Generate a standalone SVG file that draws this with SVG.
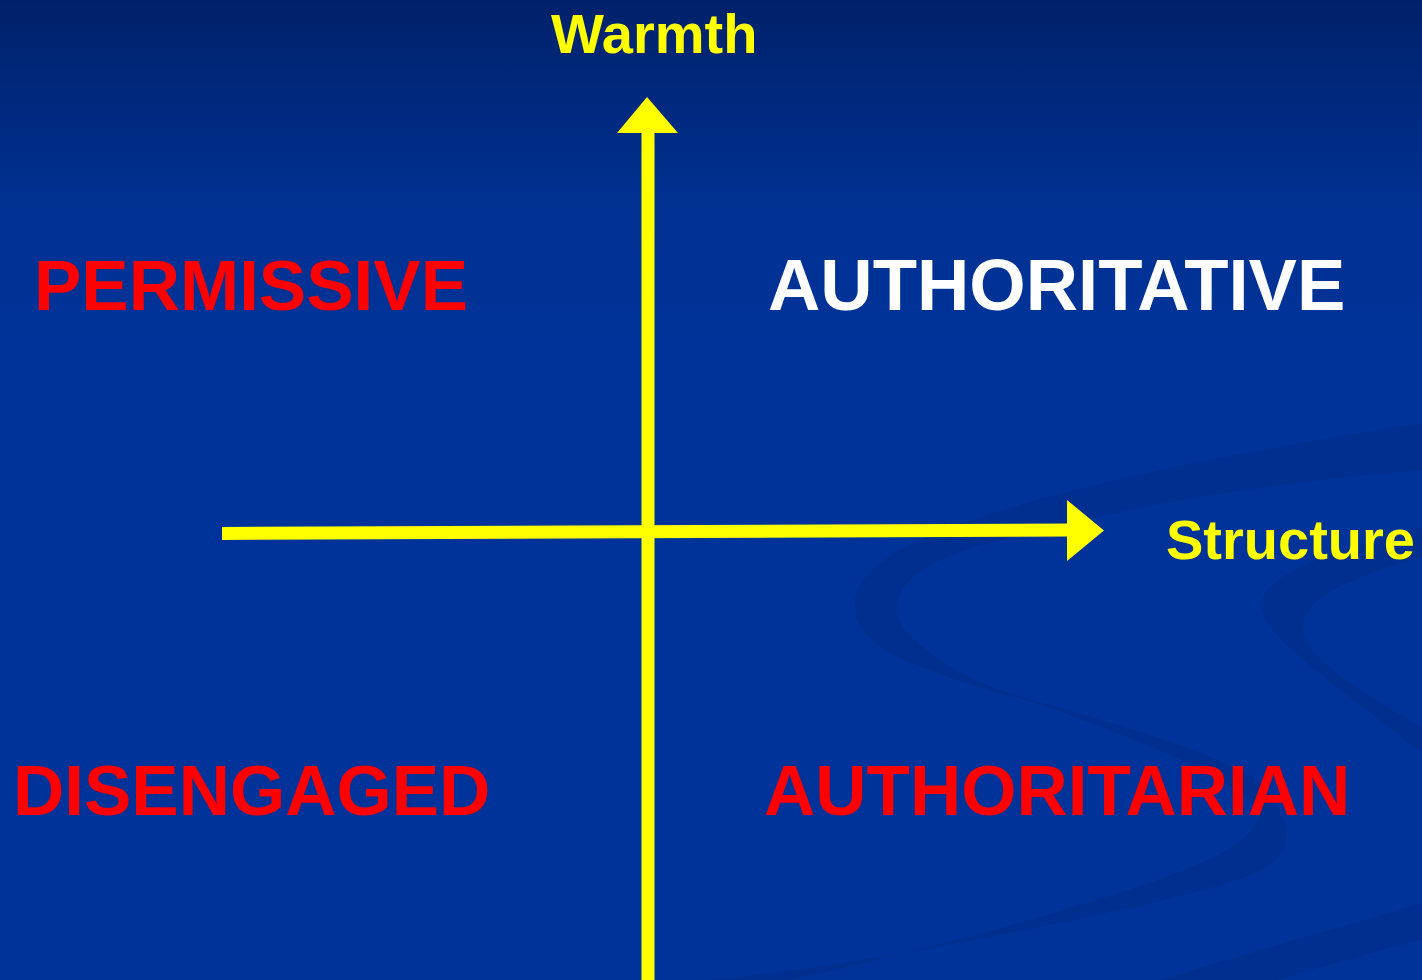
<svg xmlns="http://www.w3.org/2000/svg" width="1422" height="980" viewBox="0 0 1422 980">
  <defs>
    <linearGradient id="bg" x1="0" y1="0" x2="0" y2="1">
      <stop offset="0" stop-color="#00216a"/>
      <stop offset="0.2" stop-color="#003090"/>
      <stop offset="0.35" stop-color="#003399"/>
      <stop offset="1" stop-color="#003399"/>
    </linearGradient>
    <style>
      .swirl { fill: #002a80; opacity: 0.4; }
      .axis { stroke: #ffff00; stroke-width: 13; fill: none; }
      .head { fill: #ffff00; }
      .lbl { font-family: "Liberation Sans", Arial, sans-serif; font-weight: bold; }
      .axislbl { fill: #ffff00; font-size: 56px; }
      .quad { font-size: 71px; }
      .red { fill: #ff0000; }
      .white { fill: #ffffff; }
    </style>
  </defs>
  <rect x="0" y="0" width="1422" height="980" fill="url(#bg)"/>
  <g id="background-swirls">
    <path class="swirl" d="M1422,423 C1250,450 1000,495 900,550 C830,590 840,640 930,670 C980,690 1010,695 1040,705 C990,690 930,660 905,630 C880,590 920,560 1000,540 C1150,500 1300,480 1422,470 Z"/>
    <path class="swirl" d="M967,680 C1080,715 1230,750 1265,790 C1300,830 1290,860 1250,875 C1200,895 1100,915 1000,935 C900,955 780,975 700,980 L790,980 C880,960 980,935 1080,905 C1180,875 1245,850 1258,820 C1265,790 1150,740 967,680 Z"/>
    <path class="swirl" d="M1422,527 C1340,550 1270,570 1262,600 C1255,630 1310,665 1422,753 L1422,727 C1340,680 1300,650 1303,625 C1306,595 1360,575 1422,557 Z"/>
    <path class="swirl" d="M1422,903 C1330,930 1240,955 1161,980 L1276,980 C1330,965 1380,950 1422,940 Z"/>
  </g>
  <g id="connectors">
    <path class="axis" d="M648,980 L648,130"/>
    <polygon class="head" points="647,97 678,133 617,133"/>
    <path class="axis" d="M222,533.5 L1070,530"/>
    <polygon class="head" points="1067,500 1104,530.5 1067,561"/>
  </g>
  <g id="warmth-label"><text class="lbl axislbl" x="551" y="53">Warmth</text></g>
  <g id="structure-label"><text class="lbl axislbl" x="1166" y="559">Structure</text></g>
  <g id="permissive"><text class="lbl quad red" x="34" y="310">PERMISSIVE</text></g>
  <g id="authoritative"><text class="lbl quad white" x="768" y="310" style="font-size:72.5px">AUTHORITATIVE</text></g>
  <g id="disengaged"><text class="lbl quad red" x="13" y="815">DISENGAGED</text></g>
  <g id="authoritarian"><text class="lbl quad red" x="764" y="815">AUTHORITARIAN</text></g>
</svg>
